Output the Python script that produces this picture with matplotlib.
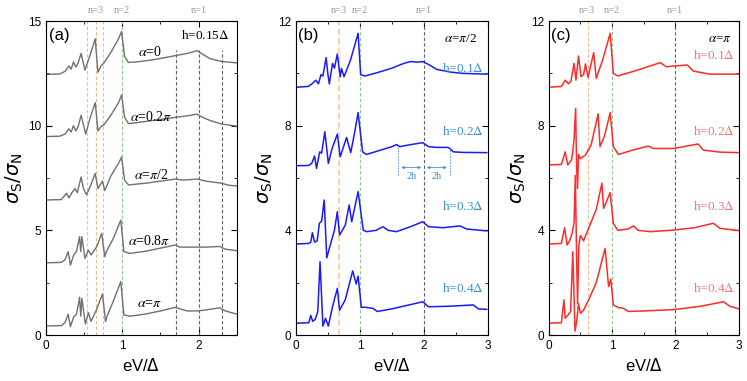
import matplotlib
matplotlib.use("Agg")
import matplotlib.pyplot as plt
from matplotlib.ticker import MultipleLocator

plt.rcParams['font.family'] = ['Liberation Sans', 'DejaVu Sans']
plt.rcParams['mathtext.fontset'] = 'stix'

# ---- panel (a): h = 0.15 Delta, different alpha ----
a_labels = [r'$\alpha$=0', r'$\alpha$=0.2$\pi$', r'$\alpha$=$\pi$/2', r'$\alpha$=0.8$\pi$', r'$\alpha$=$\pi$']
a_x0 = [0, 0.18, 0.25, 0.30, 0.33, 0.36, 0.39, 0.42, 0.46, 0.51, 0.58, 0.645, 0.68, 0.72, 0.76, 0.85, 0.95, 0.99, 1.03, 1.08, 1.2, 1.4, 1.6, 1.7, 1.85, 1.98, 2.05, 2.15, 2.3, 2.5]
a_y0 = [12.45, 12.47, 12.6, 12.85, 12.7, 13.05, 12.8, 13.0, 13.45, 12.65, 13.4, 14.15, 12.55, 12.85, 13.0, 13.5, 14.15, 14.5, 13.3, 13.02, 13.05, 13.15, 13.28, 13.35, 13.45, 13.58, 13.42, 13.2, 13.07, 13.0]
a_x1 = [0, 0.18, 0.25, 0.30, 0.33, 0.36, 0.39, 0.42, 0.46, 0.52, 0.58, 0.645, 0.68, 0.72, 0.76, 0.85, 0.95, 0.99, 1.03, 1.08, 1.2, 1.4, 1.6, 1.7, 1.85, 1.98, 2.05, 2.15, 2.3, 2.5]
a_y1 = [9.48, 9.5, 9.6, 9.85, 9.7, 10.0, 9.75, 9.95, 10.5, 9.6, 10.4, 11.1, 9.75, 9.95, 10.05, 10.5, 11.1, 11.47, 10.4, 10.1, 10.15, 10.25, 10.35, 10.4, 10.47, 10.55, 10.4, 10.25, 10.08, 9.98]
a_x2 = [0, 0.2, 0.27, 0.30, 0.34, 0.38, 0.41, 0.46, 0.49, 0.53, 0.58, 0.645, 0.68, 0.74, 0.77, 0.85, 0.95, 0.99, 1.03, 1.08, 1.3, 1.5, 1.7, 1.8, 1.98, 2.1, 2.3, 2.4, 2.5]
a_y2 = [6.45, 6.47, 6.77, 6.55, 6.8, 7.0, 6.8, 7.55, 7.0, 6.7, 7.1, 7.72, 7.0, 7.35, 6.9, 7.6, 8.2, 8.5, 7.4, 7.17, 7.25, 7.35, 7.45, 7.4, 7.45, 7.35, 7.25, 7.15, 7.12]
a_x3 = [0, 0.2, 0.25, 0.29, 0.32, 0.36, 0.40, 0.44, 0.455, 0.47, 0.51, 0.555, 0.59, 0.665, 0.73, 0.77, 0.79, 0.88, 0.98, 1.02, 1.10, 1.3, 1.5, 1.69, 1.75, 1.98, 2.1, 2.28, 2.35, 2.5]
a_y3 = [3.45, 3.47, 3.6, 3.98, 3.34, 3.8, 4.0, 4.7, 3.98, 4.7, 3.66, 4.06, 3.82, 4.22, 4.86, 3.74, 3.98, 4.6, 5.49, 3.98, 3.9, 4.0, 4.15, 4.3, 4.2, 4.2, 4.2, 4.23, 4.1, 4.03]
a_x4 = [0, 0.2, 0.25, 0.29, 0.32, 0.36, 0.40, 0.44, 0.455, 0.47, 0.515, 0.555, 0.59, 0.66, 0.74, 0.78, 0.80, 0.88, 0.98, 1.02, 1.10, 1.3, 1.5, 1.69, 1.85, 1.98, 2.1, 2.28, 2.35, 2.5]
a_y4 = [0.43, 0.45, 0.6, 1.0, 0.4, 0.85, 1.0, 1.8, 0.9, 1.75, 0.53, 1.07, 0.65, 1.2, 1.96, 0.64, 0.9, 1.6, 2.55, 0.96, 0.9, 1.0, 1.15, 1.32, 1.15, 1.15, 1.2, 1.3, 1.15, 1.0]
a_label_pos = [(1.36, 13.5), (1.38, 10.4), (1.38, 7.65), (1.35, 4.5), (1.36, 1.5)]

# ---- panel (b): alpha = pi/2, different h ----
b_labels = [r'h=0.1$\Delta$', r'h=0.2$\Delta$', r'h=0.3$\Delta$', r'h=0.4$\Delta$']
b_x0 = [0, 0.19, 0.25, 0.31, 0.35, 0.39, 0.42, 0.47, 0.50, 0.52, 0.57, 0.60, 0.645, 0.69, 0.71, 0.75, 0.85, 0.97, 1.01, 1.08, 1.3, 1.5, 1.65, 1.78, 1.9, 1.98, 2.1, 2.2, 2.41, 2.6, 2.98]
b_y0 = [9.47, 9.5, 9.6, 9.74, 9.6, 9.95, 9.9, 10.6, 9.93, 9.6, 10.38, 10.2, 10.74, 9.87, 10.19, 9.87, 10.5, 11.53, 9.95, 9.9, 10.05, 10.2, 10.35, 10.45, 10.43, 10.45, 10.3, 10.15, 10.05, 10.0, 9.97]
b_x1 = [0, 0.2, 0.245, 0.29, 0.32, 0.37, 0.40, 0.45, 0.505, 0.56, 0.645, 0.69, 0.79, 0.855, 0.92, 0.97, 1.04, 1.10, 1.3, 1.5, 1.57, 1.62, 1.8, 1.98, 2.07, 2.2, 2.38, 2.46, 2.6, 2.98]
b_y1 = [6.47, 6.48, 6.56, 6.84, 6.37, 7.0, 6.95, 7.77, 6.56, 7.1, 7.68, 6.81, 7.55, 6.97, 7.8, 8.5, 7.0, 6.9, 7.05, 7.2, 7.28, 7.2, 7.28, 7.35, 7.2, 7.17, 7.17, 7.0, 6.98, 6.97]
b_x2 = [0, 0.2, 0.23, 0.255, 0.29, 0.33, 0.365, 0.40, 0.44, 0.48, 0.53, 0.6, 0.645, 0.68, 0.77, 0.83, 0.87, 0.97, 1.05, 1.10, 1.25, 1.36, 1.44, 1.57, 1.8, 1.98, 2.07, 2.3, 2.56, 2.67, 2.98]
b_y2 = [3.48, 3.5, 3.55, 3.91, 3.55, 3.6, 4.27, 4.35, 5.16, 2.95, 3.4, 4.0, 4.71, 3.82, 4.2, 4.97, 4.33, 5.48, 4.01, 3.95, 4.0, 4.14, 4.0, 3.95, 4.15, 4.33, 4.14, 4.1, 4.17, 4.05, 3.98]
b_x3 = [0, 0.2, 0.23, 0.26, 0.3, 0.34, 0.375, 0.42, 0.46, 0.505, 0.57, 0.645, 0.68, 0.77, 0.885, 0.94, 0.97, 1.02, 1.08, 1.2, 1.27, 1.5, 1.98, 2.07, 2.4, 2.77, 2.85, 2.98]
b_y3 = [0.45, 0.47, 0.75, 0.52, 0.6, 0.9, 2.8, 0.34, 0.64, 0.34, 1.08, 1.78, 0.95, 1.35, 2.45, 1.95, 2.25, 1.06, 1.06, 1.02, 0.9, 1.0, 1.27, 1.08, 1.1, 1.15, 1.0, 0.98]
b_label_pos = [(2.6, 10.2), (2.6, 7.79), (2.6, 4.92), (2.6, 1.78)]

# ---- panel (c): alpha = pi, different h ----
c_x0 = [0, 0.2, 0.26, 0.31, 0.35, 0.40, 0.43, 0.47, 0.51, 0.55, 0.58, 0.62, 0.71, 0.75, 0.85, 0.97, 1.02, 1.09, 1.3, 1.5, 1.76, 1.86, 1.97, 2.19, 2.28, 2.54, 3.0]
c_y0 = [9.47, 9.5, 9.74, 9.6, 9.7, 10.38, 9.74, 10.66, 9.87, 9.95, 10.36, 9.85, 10.79, 9.81, 10.5, 11.53, 10.0, 9.9, 10.05, 10.2, 10.41, 10.25, 10.28, 10.32, 10.09, 9.97, 9.97]
c_x1 = [0, 0.2, 0.26, 0.30, 0.36, 0.38, 0.40, 0.425, 0.44, 0.455, 0.47, 0.50, 0.58, 0.67, 0.78, 0.81, 0.88, 0.97, 1.02, 1.1, 1.3, 1.57, 1.65, 1.97, 2.36, 2.44, 2.7, 3.0]
c_y1 = [6.5, 6.52, 7.0, 6.5, 6.7, 7.0, 7.5, 8.66, 6.4, 5.6, 6.9, 6.75, 6.88, 7.27, 8.45, 7.2, 7.6, 8.5, 7.2, 6.9, 7.05, 7.22, 7.13, 7.13, 7.3, 7.07, 6.99, 6.97]
c_x2 = [0, 0.2, 0.25, 0.29, 0.33, 0.37, 0.40, 0.42, 0.44, 0.455, 0.475, 0.50, 0.55, 0.65, 0.75, 0.84, 0.865, 0.97, 1.02, 1.09, 1.25, 1.34, 1.41, 1.6, 1.97, 2.3, 2.6, 2.7, 3.0]
c_y2 = [3.48, 3.5, 4.1, 3.44, 3.6, 3.9, 4.3, 6.1, 3.0, 1.2, 3.4, 3.8, 3.6, 4.2, 4.8, 5.8, 4.84, 5.44, 4.27, 4.0, 4.05, 4.17, 4.0, 3.95, 4.01, 4.1, 4.27, 4.08, 3.99]
c_x3 = [0, 0.2, 0.24, 0.26, 0.30, 0.345, 0.38, 0.415, 0.44, 0.47, 0.50, 0.55, 0.63, 0.75, 0.89, 0.945, 0.98, 1.02, 1.1, 1.18, 1.26, 1.5, 1.97, 2.4, 2.76, 2.86, 3.0]
c_y3 = [0.45, 0.47, 1.34, 0.64, 0.75, 0.9, 3.18, 0.15, 0.5, 1.2, 0.83, 0.95, 1.34, 2.0, 3.31, 1.85, 2.13, 1.15, 1.05, 1.02, 0.9, 0.92, 0.97, 1.1, 1.27, 1.1, 1.0]
c_label_pos = [(2.6, 10.7), (2.6, 7.79), (2.6, 4.9), (2.6, 1.78)]

# resonance lines
a_n3 = [0.54, 0.65, 0.75]
a_n1 = [1.7, 2.0, 2.3]
b_n3, c_n3 = 0.667, 0.62

ORANGE = '#f7b98a'
GREEN = '#8ccc8c'
GRAY = '#606060'
LABELGRAY = '#9a9a9a'


def style(ax, xmax, ymax, ymaj, ymin):
    ax.set_xlim(0, xmax)
    ax.set_ylim(0, ymax)
    ax.xaxis.set_major_locator(MultipleLocator(1))
    ax.xaxis.set_minor_locator(MultipleLocator(0.5))
    ax.yaxis.set_major_locator(MultipleLocator(ymaj))
    ax.yaxis.set_minor_locator(MultipleLocator(ymin))
    ax.tick_params(which='both', direction='in', top=True, right=True, labelsize=8.5)
    ax.tick_params(which='major', length=4)
    ax.tick_params(which='minor', length=2.5)
    ax.set_xlabel(r'eV/$\Delta$', fontsize=12, math_fontfamily='dejavusans', labelpad=4)
    ax.set_ylabel(r'$\sigma_{\rm S}/\sigma_{\rm N}$', fontsize=14, math_fontfamily='dejavusans', labelpad=2)


def nlabel(ax, x, s):
    ax.text(x, 1.02, s, transform=ax.get_xaxis_transform(), ha='center', va='bottom',
            fontsize=7.5, color=LABELGRAY, family='Liberation Serif')


fig = plt.figure(figsize=(7.47, 3.81), dpi=100)
ax_a = fig.add_axes([0.0616, 0.1207, 0.2554, 0.8241])
ax_b = fig.add_axes([0.3963, 0.1207, 0.2570, 0.8241])
ax_c = fig.add_axes([0.7346, 0.1207, 0.2543, 0.8241])

# (a)
for xv in a_n3:
    ax_a.axvline(xv, color=ORANGE, ls='--', lw=0.8, dashes=(3, 2))
ax_a.axvline(1.0, color=GREEN, ls='--', lw=0.8, dashes=(3, 2))
for xv in a_n1:
    ax_a.plot([xv, xv], [0, 13.6], color=GRAY, ls='--', lw=0.8, dashes=(3, 2))
for xs, ys in [(a_x0, a_y0), (a_x1, a_y1), (a_x2, a_y2), (a_x3, a_y3), (a_x4, a_y4)]:
    ax_a.plot(xs, ys, color='#707070', lw=1.0)
for lab, (px, py) in zip(a_labels, a_label_pos):
    ax_a.text(px, py, lab, ha='center', va='center', fontsize=10, family='Liberation Serif')
ax_a.text(0.04, 14.3, '(a)', ha='left', va='center', fontsize=12)
ax_a.text(2.09, 14.3, r'h=0.15$\Delta$', ha='center', va='center', fontsize=9.5, family='Liberation Serif')
nlabel(ax_a, 0.65, 'n=3')
nlabel(ax_a, 1.0, 'n=2')
nlabel(ax_a, 2.0, 'n=1')
style(ax_a, 2.5, 15, 5, 2.5)

# (b)
ax_b.axvline(b_n3, color='#fbd3b4', ls='--', lw=1.5, dashes=(3, 1.5))
ax_b.axvline(1.0, color=GREEN, ls='--', lw=0.8, dashes=(3, 2))
ax_b.axvline(2.0, color=GRAY, ls='--', lw=0.8, dashes=(3, 2))
for xs, ys in [(b_x0, b_y0), (b_x1, b_y1), (b_x2, b_y2), (b_x3, b_y3)]:
    ax_b.plot(xs, ys, color='#1a1aff', lw=1.1)
for lab, (px, py) in zip(b_labels, b_label_pos):
    ax_b.text(px, py, lab, ha='center', va='center', fontsize=9.5, color='#3d8fd6', family='Liberation Serif')
BLUE2 = '#4a90d0'
for xv in [1.6, 2.4]:
    ax_b.plot([xv, xv], [6.1, 7.2], color=BLUE2, ls='--', lw=0.6, dashes=(2, 1.5))
for x0, x1 in [(1.6, 2.0), (2.0, 2.4)]:
    ax_b.annotate('', xy=(x1, 6.4), xytext=(x0, 6.4),
                  arrowprops=dict(arrowstyle='<|-|>', color=BLUE2, lw=0.6, mutation_scale=4))
    ax_b.text((x0 + x1) / 2, 6.05, '2h', ha='center', va='center', fontsize=7.5, color=BLUE2, family='Liberation Serif')
ax_b.text(0.03, 11.46, '(b)', ha='left', va='center', fontsize=12)
ax_b.text(2.57, 11.3, r'$\alpha$=$\pi$/2', ha='center', va='center', fontsize=9.5, family='Liberation Serif')
nlabel(ax_b, b_n3, 'n=3')
nlabel(ax_b, 1.0, 'n=2')
nlabel(ax_b, 2.0, 'n=1')
style(ax_b, 3, 12, 4, 2)

# (c)
ax_c.axvline(c_n3, color=ORANGE, ls='--', lw=0.8, dashes=(3, 2))
ax_c.axvline(1.0, color=GREEN, ls='--', lw=0.8, dashes=(3, 2))
ax_c.axvline(2.0, color=GRAY, ls='--', lw=0.8, dashes=(3, 2))
for xs, ys in [(c_x0, c_y0), (c_x1, c_y1), (c_x2, c_y2), (c_x3, c_y3)]:
    ax_c.plot(xs, ys, color='#ff2a2a', lw=1.1)
for lab, (px, py) in zip(b_labels, c_label_pos):
    ax_c.text(px, py, lab, ha='center', va='center', fontsize=9.5, color='#f07a7a', family='Liberation Serif')
ax_c.text(0.03, 11.46, '(c)', ha='left', va='center', fontsize=12)
ax_c.text(2.71, 11.3, r'$\alpha$=$\pi$', ha='center', va='center', fontsize=9.5, family='Liberation Serif')
nlabel(ax_c, 0.6, 'n=3')
nlabel(ax_c, 1.0, 'n=2')
nlabel(ax_c, 2.0, 'n=1')
style(ax_c, 3, 12, 4, 2)

fig.savefig('out.png', dpi=100)
